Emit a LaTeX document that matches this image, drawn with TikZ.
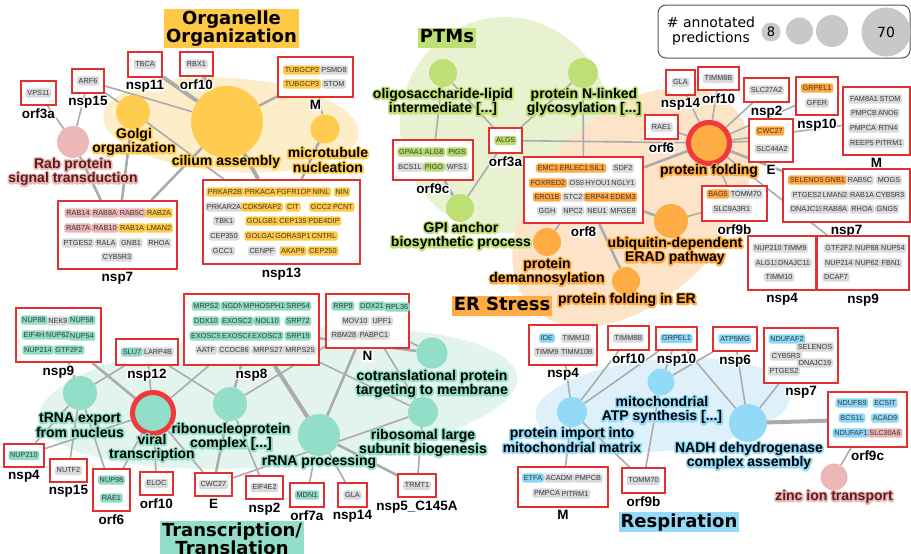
\documentclass[tikz,border=0pt]{standalone}
\usepackage{fontspec}
\setmainfont{Liberation Sans}
\newfontfamily\dejavu{DejaVu Sans}

\definecolor{boxred}{HTML}{E2312F}
\definecolor{ringred}{HTML}{EE3A3A}
\definecolor{edgegray}{HTML}{ABABAB}
\definecolor{chiptext}{HTML}{383838}
\definecolor{cgray}{HTML}{DADADA}
\definecolor{cyel}{HTML}{FFC845}
\definecolor{cpink}{HTML}{EBB3B3}
\definecolor{cgreen}{HTML}{B8DB6C}
\definecolor{corange}{HTML}{FFA73E}
\definecolor{cteal}{HTML}{8FDCC5}
\definecolor{cblue}{HTML}{8AD7F8}
\definecolor{myel}{HTML}{FFCC50}
\definecolor{mpink}{HTML}{EBB7B7}
\definecolor{mgreen}{HTML}{BEDF76}
\definecolor{morange}{HTML}{FFAC45}
\definecolor{mteal}{HTML}{93DEC8}
\definecolor{mblue}{HTML}{93DAF8}
\definecolor{rgyel}{HTML}{FDEDC8}
\definecolor{rggreen}{HTML}{E8F1D0}
\definecolor{rgorange}{HTML}{FDE4C8}
\definecolor{rgteal}{HTML}{E2F4EC}
\definecolor{rgblue}{HTML}{DEF1FA}
\definecolor{maroon}{HTML}{5A1C1C}
\definecolor{legline}{HTML}{555555}
\definecolor{leggray}{HTML}{C8C8C8}

\pgfdeclarelayer{regions}
\pgfdeclarelayer{edges}
\pgfsetlayers{regions,edges,main}

\tikzset{
  mcirc/.style={circle, fill=#1, draw=none, inner sep=0pt},
  pbox/.style={draw=boxred, line width=1.8pt, fill=white, inner sep=0pt},
  plab/.style={font=\fontsize{13.5}{14}\selectfont\bfseries, inner sep=0pt, text=black},
  chip/.style={fill=#1, rounded corners=2.5pt, font=\fontsize{7.3}{8}\selectfont,
    text=chiptext, inner xsep=1.7pt, inner ysep=1.7pt, text height=5.4pt, text depth=0.6pt},
  mlab/.style={font=\fontsize{14}{14.5}\selectfont\bfseries, align=center, inner sep=0pt, text=black},
  ttl/.style={fill=#1, font=\dejavu\bfseries\fontsize{18}{17}\selectfont, align=center,
    inner xsep=2pt, inner ysep=1.5pt},
  ttlone/.style={ttl=#1, text height=13.5pt, text depth=3.5pt},
  thinlink/.style={draw=edgegray, line width=1.6pt},
  midlink/.style={draw=edgegray, line width=2.6pt},
  thicklink/.style={draw=edgegray, line width=4pt}
}

% outlined (haloed) text: a stroked copy underneath, the plain text on top
\newcommand{\strokeon}[1]{\special{pdf:literal direct 1 j 1 J #1 w 1 Tr}}
\newcommand{\strokeoff}{\special{pdf:literal direct 0 Tr 0 j 0 J}}
\newcommand{\halo}[3]{\leavevmode\rlap{\textcolor{#2}{\strokeon{#1}#3\strokeoff}}#3}
\newcommand{\wh}[1]{\halo{2.8}{white}{#1}}
\newcommand{\hal}[2]{\halo{3.4}{#1}{#2}}

% a viral protein box with its name underneath
\newcommand{\protbox}[6]{%
  \node[pbox, minimum width=#4pt, minimum height=#5pt] (#1) at (#2,#3) {};
  \node[plab, anchor=north] (#1-name) at ([yshift=-2.5pt]#1.south) {\wh{#6}};}
% a gene chip inside a box
\newcommand{\gn}[4]{\node[chip=#2] (#1-#4) at (#3) {#4};}

\begin{document}
\begin{tikzpicture}[x=1pt,y=-1pt]
\useasboundingbox (0,0) rectangle (911,554);

% ---------------- shaded module areas ----------------
\begin{pgfonlayer}{regions}
  \fill[rgyel, rotate around={-4:(231,125)}] (231,125) ellipse [x radius=128, y radius=47];
  \fill[rggreen] (505,125) ellipse [x radius=105, y radius=108];
  \fill[rgorange, rotate around={45:(632,207)}] (632,207) ellipse [x radius=142, y radius=92];
  \fill[rgteal, rotate around={5:(278,398)}] (278,398) ellipse [x radius=240, y radius=68];
  \fill[rgblue, rotate around={5:(663,405)}] (663,405) ellipse [x radius=128, y radius=46];
\end{pgfonlayer}

% ---------------- term circles ----------------
\node[mcirc=myel, minimum size=72pt] (cilium) at (227,122) {};
\node[mcirc=myel, minimum size=34pt] (golgi) at (133,112) {};
\node[mcirc=myel, minimum size=29pt] (micro) at (325,129) {};
\node[mcirc=mpink, minimum size=32pt] (rab) at (73,142) {};

\node[mcirc=mgreen, minimum size=28pt] (oligo) at (443,73) {};
\node[mcirc=mgreen, minimum size=30pt] (nlink) at (583,73) {};
\node[mcirc=mgreen, minimum size=28pt] (gpi) at (460,208) {};

\node[mcirc=morange, minimum size=41pt, draw=ringred, line width=5pt] (pfold) at (709,143) {};
\node[mcirc=morange, minimum size=34pt] (erad) at (671,221) {};
\node[mcirc=morange, minimum size=28pt] (demann) at (547,242) {};
\node[mcirc=morange, minimum size=28pt] (foldER) at (626,281) {};

\node[mcirc=mteal, minimum size=41pt, draw=ringred, line width=5pt] (viral) at (153,413) {};
\node[mcirc=mteal, minimum size=34pt] (trna) at (80,393) {};
\node[mcirc=mteal, minimum size=34pt] (ribo) at (230,404) {};
\node[mcirc=mteal, minimum size=42pt] (rrna) at (319,435) {};
\node[mcirc=mteal, minimum size=31pt] (cotrans) at (432,353) {};
\node[mcirc=mteal, minimum size=30pt] (ribos) at (423,412) {};

\node[mcirc=mblue, minimum size=30pt] (import) at (572,412) {};
\node[mcirc=mblue, minimum size=27pt] (atp) at (661,382) {};
\node[mcirc=mblue, minimum size=38pt] (nadh) at (748,423) {};
\node[mcirc=mpink, minimum size=27pt] (zinc) at (834,477) {};

% ---------------- Organelle Organization boxes ----------------
\protbox{oOrf3a}{38.5}{93}{35}{24}{orf3a}
\gn{oOrf3a}{cgray}{38.5,93}{VPS11}
\protbox{oNsp15}{88}{81}{32}{24}{nsp15}
\gn{oNsp15}{cgray}{88,81}{ARF6}
\protbox{oNsp11}{145}{64.5}{34}{25}{nsp11}
\gn{oNsp11}{cgray}{145,64.5}{TBCA}
\protbox{oOrf10}{196.5}{64}{33}{24}{orf10}
\gn{oOrf10}{cgray}{196.5,64}{RBX1}
\protbox{oM}{315.5}{77}{75}{40}{M}
\gn{oM}{cyel}{302,70}{TUBGCP2}
\gn{oM}{cgray}{334,70}{PSMD8}
\gn{oM}{cyel}{302,84}{TUBGCP3}
\gn{oM}{cgray}{334,84}{STOM}
\protbox{oNsp7}{117.5}{235}{119}{68}{nsp7}
\gn{oNsp7}{cpink}{78,213}{RAB14}
\gn{oNsp7}{cpink}{105,213}{RAB8A}
\gn{oNsp7}{cpink}{132,213}{RAB5C}
\gn{oNsp7}{cyel}{159,213}{RAB2A}
\gn{oNsp7}{cpink}{78,228}{RAB7A}
\gn{oNsp7}{cpink}{105,228}{RAB10}
\gn{oNsp7}{cyel}{132,228}{RAB1A}
\gn{oNsp7}{cyel}{159,228}{LMAN2}
\gn{oNsp7}{cgray}{78,243}{PTGES2}
\gn{oNsp7}{cgray}{106,243}{RALA}
\gn{oNsp7}{cgray}{131,243}{GNB1}
\gn{oNsp7}{cgray}{159,243}{RHOA}
\gn{oNsp7}{cgray}{117,257}{CYB5R3}
\protbox{oNsp13}{281.5}{222}{157}{84}{nsp13}
\gn{oNsp13}{cyel}{225,192}{PRKAR2B}
\gn{oNsp13}{cyel}{260,192}{PRKACA}
\gn{oNsp13}{cyel}{294,192}{FGFR1OP}
\gn{oNsp13}{cyel}{321,192}{NINL}
\gn{oNsp13}{cyel}{342,192}{NIN}
\gn{oNsp13}{cgray}{224,207}{PRKAR2A}
\gn{oNsp13}{cyel}{262,207}{CDK5RAP2}
\gn{oNsp13}{cyel}{293,207}{CIT}
\gn{oNsp13}{cyel}{321,207}{GCC2}
\gn{oNsp13}{cyel}{343,207}{PCNT}
\gn{oNsp13}{cgray}{224,221}{TBK1}
\gn{oNsp13}{cyel}{262,221}{GOLGB1}
\gn{oNsp13}{cyel}{293,221}{CEP135}
\gn{oNsp13}{cyel}{324,221}{PDE4DIP}
\gn{oNsp13}{cgray}{224,236}{CEP350}
\gn{oNsp13}{cyel}{261,236}{GOLGA2}
\gn{oNsp13}{cyel}{293,236}{GORASP1}
\gn{oNsp13}{cyel}{324,236}{CNTRL}
\gn{oNsp13}{cgray}{223,251}{GCC1}
\gn{oNsp13}{cgray}{262,251}{CENPF}
\gn{oNsp13}{cyel}{293,251}{AKAP9}
\gn{oNsp13}{cyel}{323,251}{CEP250}

% ---------------- PTM boxes ----------------
\protbox{pOrf3a}{505.5}{140.5}{33}{25}{orf3a}
\gn{pOrf3a}{cgreen}{505.5,140.5}{ALG5}
\protbox{pOrf9c}{433}{160}{80}{40}{orf9c}
\gn{pOrf9c}{cgreen}{411,152}{GPAA1}
\gn{pOrf9c}{cgreen}{434,152}{ALG8}
\gn{pOrf9c}{cgreen}{457,152}{PIGS}
\gn{pOrf9c}{cgray}{410,167}{BCS1L}
\gn{pOrf9c}{cgreen}{434,167}{PIGO}
\gn{pOrf9c}{cgray}{457,167}{WFS1}

% ---------------- ER stress boxes ----------------
\protbox{eOrf8}{583.5}{190}{119}{66}{orf8}
\gn{eOrf8}{corange}{548,168}{EMC1}
\gn{eOrf8}{corange}{574,168}{ERLEC1}
\gn{eOrf8}{corange}{597,168}{SIL1}
\gn{eOrf8}{cgray}{623,168}{SDF2}
\gn{eOrf8}{corange}{548,183}{FOXRED2}
\gn{eOrf8}{cgray}{577,183}{OS9}
\gn{eOrf8}{cgray}{598,183}{HYOU1}
\gn{eOrf8}{cgray}{623,183}{NGLY1}
\gn{eOrf8}{corange}{547,197}{ERO1B}
\gn{eOrf8}{cgray}{573,197}{STC2}
\gn{eOrf8}{corange}{597,197}{ERP44}
\gn{eOrf8}{corange}{623,197}{EDEM3}
\gn{eOrf8}{cgray}{547,211}{GGH}
\gn{eOrf8}{cgray}{573,211}{NPC2}
\gn{eOrf8}{cgray}{597,211}{NEU1}
\gn{eOrf8}{cgray}{623,211}{MFGE8}
\protbox{eOrf6}{661.5}{127}{33}{24}{orf6}
\gn{eOrf6}{cgray}{661.5,127}{RAE1}
\protbox{eNsp14}{680.5}{82.5}{29}{25}{nsp14}
\gn{eNsp14}{cgray}{680.5,82.5}{GLA}
\protbox{eOrf10}{718.5}{78.5}{41}{23}{orf10}
\gn{eOrf10}{cgray}{718.5,78.5}{TIMM8B}
\protbox{eNsp2}{766.5}{90}{45}{24}{nsp2}
\gn{eNsp2}{cgray}{766.5,90}{SLC27A2}
\protbox{eNsp10}{817}{96}{42}{38}{nsp10}
\gn{eNsp10}{corange}{817,88}{GRPEL1}
\gn{eNsp10}{cgray}{817,103}{GFER}
\protbox{eE}{771}{140.5}{44}{43}{E}
\gn{eE}{corange}{770,131}{CWC27}
\gn{eE}{cgray}{772,149}{SLC44A2}
\protbox{eM}{876.5}{121}{67}{68}{M}
\gn{eM}{cgray}{864,99}{FAM8A1}
\gn{eM}{cgray}{890,99}{STOM}
\gn{eM}{cgray}{864,113}{PMPCB}
\gn{eM}{cgray}{888,113}{ANO6}
\gn{eM}{cgray}{863,128}{PMPCA}
\gn{eM}{cgray}{888,128}{RTN4}
\gn{eM}{cgray}{862,143}{REEP5}
\gn{eM}{cgray}{889,143}{PITRM1}
\protbox{eNsp7}{846.5}{195.5}{127}{53}{nsp7}
\gn{eNsp7}{corange}{807,180}{SELENOS}
\gn{eNsp7}{corange}{835,180}{GNB1}
\gn{eNsp7}{cgray}{860,180}{RAB5C}
\gn{eNsp7}{cgray}{889,180}{MOGS}
\gn{eNsp7}{cgray}{807,195}{PTGES2}
\gn{eNsp7}{cgray}{835,195}{LMAN2}
\gn{eNsp7}{cgray}{862,195}{RAB1A}
\gn{eNsp7}{cgray}{890,195}{CYB5R3}
\gn{eNsp7}{cgray}{807,209}{DNAJC19}
\gn{eNsp7}{cgray}{835,209}{RAB8A}
\gn{eNsp7}{cgray}{862,209}{RHOA}
\gn{eNsp7}{cgray}{887,209}{GNG5}
\protbox{eOrf9b}{734.5}{203.5}{65}{35}{orf9b}
\gn{eOrf9b}{corange}{718,194}{BAG5}
\gn{eOrf9b}{cgray}{746,194}{TOMM70}
\gn{eOrf9b}{cgray}{732,209}{SLC9A3R1}
\protbox{eNsp4}{782}{263}{68}{54}{nsp4}
\gn{eNsp4}{cgray}{768,248}{NUP210}
\gn{eNsp4}{cgray}{795,248}{TIMM9}
\gn{eNsp4}{cgray}{767,263}{ALG11}
\gn{eNsp4}{cgray}{794,263}{DNAJC11}
\gn{eNsp4}{cgray}{779,277}{TIMM10}
\protbox{eNsp9}{863}{263}{92}{54}{nsp9}
\gn{eNsp9}{cgray}{839,248}{GTF2F2}
\gn{eNsp9}{cgray}{867,248}{NUP88}
\gn{eNsp9}{cgray}{893,248}{NUP54}
\gn{eNsp9}{cgray}{839,263}{NUP214}
\gn{eNsp9}{cgray}{867,263}{NUP62}
\gn{eNsp9}{cgray}{891,263}{FBN1}
\gn{eNsp9}{cgray}{836,277}{DCAF7}

% ---------------- Transcription / Translation boxes ----------------
\protbox{tNsp9}{58.5}{335}{85}{54}{nsp9}
\gn{tNsp9}{cteal}{34,320}{NUP88}
\gn{tNsp9}{cgray}{58,321}{NEK9}
\gn{tNsp9}{cteal}{82,320}{NUP58}
\gn{tNsp9}{cteal}{34,335}{EIF4H}
\gn{tNsp9}{cteal}{58,335}{NUP62}
\gn{tNsp9}{cteal}{82,336}{NUP54}
\gn{tNsp9}{cteal}{38,350}{NUP214}
\gn{tNsp9}{cteal}{69,350}{GTF2F2}
\protbox{tNsp12}{147}{352}{62}{26}{nsp12}
\gn{tNsp12}{cteal}{132,352}{SLU7}
\gn{tNsp12}{cgray}{158,352}{LARP4B}
\protbox{tNsp8}{251.5}{329.5}{135}{71}{nsp8}
\gn{tNsp8}{cteal}{206,306}{MRPS2}
\gn{tNsp8}{cteal}{233,306}{NGDN}
\gn{tNsp8}{cteal}{266,306}{MPHOSPH10}
\gn{tNsp8}{cteal}{298,306}{SRP54}
\gn{tNsp8}{cteal}{206,321}{DDX10}
\gn{tNsp8}{cteal}{237,321}{EXOSC2}
\gn{tNsp8}{cteal}{267,321}{NOL10}
\gn{tNsp8}{cteal}{298,321}{SRP72}
\gn{tNsp8}{cteal}{206,336}{EXOSC5}
\gn{tNsp8}{cteal}{237,336}{EXOSC8}
\gn{tNsp8}{cteal}{267,336}{EXOSC3}
\gn{tNsp8}{cteal}{298,336}{SRP19}
\gn{tNsp8}{cgray}{206,350}{AATF}
\gn{tNsp8}{cgray}{234,350}{CCDC86}
\gn{tNsp8}{cgray}{268,350}{MRPS27}
\gn{tNsp8}{cgray}{300,350}{MRPS25}
\protbox{tN}{367.5}{321}{83}{54}{N}
\gn{tN}{cteal}{343,306}{RRP9}
\gn{tN}{cteal}{372,306}{DDX21}
\gn{tN}{cteal}{397,307}{RPL36}
\gn{tN}{cgray}{355,321}{MOV10}
\gn{tN}{cgray}{382,321}{UPF1}
\gn{tN}{cgray}{344,335}{RBM28}
\gn{tN}{cgray}{374,335}{PABPC1}
\protbox{tNsp4}{24}{455.5}{40}{23}{nsp4}
\gn{tNsp4}{cteal}{24,455.5}{NUP210}
\protbox{tNsp15}{68.5}{470.5}{37}{23}{nsp15}
\gn{tNsp15}{cgray}{68.5,470.5}{NUTF2}
\protbox{tOrf6}{111.5}{490}{37}{42}{orf6}
\gn{tOrf6}{cteal}{111.5,480}{NUP98}
\gn{tOrf6}{cteal}{111.5,498}{RAE1}
\protbox{tOrf10}{156.5}{483.5}{33}{23}{orf10}
\gn{tOrf10}{cgray}{156.5,483.5}{ELOC}
\protbox{tE}{213.5}{484.5}{37}{23}{E}
\gn{tE}{cgray}{213.5,484.5}{CWC27}
\protbox{tNsp2}{264.5}{487.5}{37}{23}{nsp2}
\gn{tNsp2}{cgray}{264.5,487.5}{EIF4E2}
\protbox{tOrf7a}{307}{495}{34}{24}{orf7a}
\gn{tOrf7a}{cteal}{307,495}{MDN1}
\protbox{tNsp14}{352.5}{495}{29}{24}{nsp14}
\gn{tNsp14}{cgray}{352.5,495}{GLA}
\protbox{tNsp5}{417}{485.5}{38}{23}{nsp5\_C145A}
\gn{tNsp5}{cgray}{417,485.5}{TRMT1}

% ---------------- Respiration boxes ----------------
\protbox{rNsp4}{563}{345}{68}{40}{nsp4}
\gn{rNsp4}{cblue}{547,338}{IDE}
\gn{rNsp4}{cgray}{576,338}{TIMM10}
\gn{rNsp4}{cgray}{547,352}{TIMM9}
\gn{rNsp4}{cgray}{577,352}{TIMM10B}
\protbox{rOrf10}{628.5}{338}{41}{24}{orf10}
\gn{rOrf10}{cgray}{628.5,338}{TIMM8B}
\protbox{rNsp10}{676.5}{338.5}{41}{23}{nsp10}
\gn{rNsp10}{cblue}{676.5,338.5}{GRPEL1}
\protbox{rNsp6}{735}{339}{44}{24}{nsp6}
\gn{rNsp6}{cblue}{735,339}{ATP5MG}
\protbox{rNsp7}{801}{355.5}{74}{55}{nsp7}
\gn{rNsp7}{cblue}{787,339}{NDUFAF2}
\gn{rNsp7}{cgray}{815,347}{SELENOS}
\gn{rNsp7}{cgray}{786,356}{CYB5R3}
\gn{rNsp7}{cgray}{815,363}{DNAJC19}
\gn{rNsp7}{cgray}{784,371}{PTGES2}
\protbox{rOrf9c}{867.5}{419.5}{79}{55}{orf9c}
\gn{rOrf9c}{cblue}{852,403}{NDUFB9}
\gn{rOrf9c}{cblue}{885,403}{ECSIT}
\gn{rOrf9c}{cblue}{852,418}{BCS1L}
\gn{rOrf9c}{cblue}{885,418}{ACAD9}
\gn{rOrf9c}{cblue}{851,433}{NDUFAF1}
\gn{rOrf9c}{cpink}{885,433}{SLC30A6}
\protbox{rM}{563}{487}{90}{40}{M}
\gn{rM}{cblue}{533,478}{ETFA}
\gn{rM}{cgray}{559,478}{ACADM}
\gn{rM}{cgray}{588,478}{PMPCB}
\gn{rM}{cgray}{547,493}{PMPCA}
\gn{rM}{cgray}{575,494}{PITRM1}
\protbox{rOrf9b}{643.5}{480.5}{43}{25}{orf9b}
\gn{rOrf9b}{cgray}{643.5,480.5}{TOMM70}

% ---------------- connectors ----------------
\begin{pgfonlayer}{edges}
  % organelle organization
  \draw[thinlink] (oOrf3a) -- (rab);
  \draw[thinlink] (oNsp15) -- (rab);
  \draw[thinlink] (oNsp15) -- (golgi);
  \draw[thinlink] (oNsp15) -- (cilium);
  \draw[thicklink] (oNsp11) -- (cilium);
  \draw[thicklink] (oOrf10) -- (cilium);
  \draw[midlink] (oM) -- (cilium);
  \draw[thinlink] (oM) -- (micro);
  \draw[midlink] (oNsp7) -- (rab);
  \draw[midlink] (oNsp7) -- (golgi);
  \draw[midlink] (oNsp7) -- (cilium);
  \draw[thicklink] (oNsp13) -- (cilium);
  \draw[thinlink] (oNsp13) -- (golgi);
  \draw[midlink] (oNsp13) -- (micro);
  % PTMs
  \draw[thinlink] (pOrf3a) -- (oligo);
  \draw[thinlink] (pOrf3a) -- (nlink);
  \draw[thinlink] (pOrf3a) -- (gpi);
  \draw[thinlink] (pOrf3a) -- (pfold);
  \draw[thinlink] (pOrf9c) -- (oligo);
  \draw[midlink] (pOrf9c) -- (gpi);
  \draw[thinlink] (eOrf8) -- (nlink);
  % ER stress
  \draw[midlink] (eOrf8) -- (pfold);
  \draw[midlink] (eOrf8) -- (erad);
  \draw[thinlink] (eOrf8) -- (demann);
  \draw[midlink] (eOrf8) -- (foldER);
  \draw[thinlink] (eOrf6) -- (pfold);
  \draw[thinlink] (eNsp14) -- (pfold);
  \draw[thinlink] (eOrf10) -- (pfold);
  \draw[thinlink] (eNsp2) -- (pfold);
  \draw[thinlink] (eNsp10) -- (pfold);
  \draw[thinlink] (eE) -- (pfold);
  \draw[thinlink] (eM) -- (pfold);
  \draw[midlink] (eNsp7) -- (pfold);
  \draw[thinlink] (eOrf9b) -- (pfold);
  \draw[thinlink] (eOrf9b) -- (erad);
  \draw[thinlink] (eNsp9) -- (pfold);
  % transcription / translation
  \draw[midlink] (tNsp9) -- (trna);
  \draw[midlink] (tNsp9) -- (viral);
  \draw[thinlink] (tNsp12) -- (viral);
  \draw[thinlink] (tNsp12) -- (trna);
  \draw[thinlink] (tNsp12) -- (ribo);
  \draw[thicklink] (tNsp8) -- (rrna);
  \draw[midlink] (tNsp8) -- (ribo);
  \draw[midlink] (tNsp8) -- (cotrans);
  \draw[thinlink] (tNsp8) -- (viral);
  \draw[thinlink] (tNsp8) -- (ribos);
  \draw[midlink] (tN) -- (rrna);
  \draw[thinlink] (tN) -- (ribos);
  \draw[thinlink] (tN) -- (cotrans);
  \draw[thinlink] (tN) -- (ribo);
  \draw[thinlink] (tNsp4) -- (trna);
  \draw[thinlink] (tNsp4) -- (viral);
  \draw[thinlink] (tNsp15) -- (trna);
  \draw[thinlink] (tOrf6) -- (trna);
  \draw[thinlink] (tOrf6) -- (viral);
  \draw[thinlink] (tOrf10) -- (viral);
  \draw[midlink] (tE) -- (ribo);
  \draw[thinlink] (tE) -- (viral);
  \draw[thinlink] (tE) -- (ribos);
  \draw[thinlink] (tNsp2) -- (ribo);
  \draw[thinlink] (tOrf7a) -- (rrna);
  \draw[thinlink] (tNsp14) -- (rrna);
  \draw[midlink] (tNsp5) -- (rrna);
  \draw[thinlink] (tNsp5) -- (ribos);
  % respiration
  \draw[thinlink] (rNsp4) -- (import);
  \draw[thinlink] (rOrf10) -- (import);
  \draw[thinlink] (rNsp10) -- (import);
  \draw[thinlink] (rNsp10) -- (atp);
  \draw[thinlink] (rNsp10) -- (nadh);
  \draw[thinlink] (rNsp6) -- (atp);
  \draw[thinlink] (rNsp6) -- (nadh);
  \draw[thinlink] (rNsp7) -- (nadh);
  \draw[thicklink] (rOrf9c) -- (nadh);
  \draw[thinlink] (rOrf9c) -- (zinc);
  \draw[thinlink] (rM) -- (import);
  \draw[thinlink] (rOrf9b) -- (import);
  \draw[thinlink] (rOrf9b) -- (atp);
\end{pgfonlayer}

% ---------------- term names ----------------
\node[mlab] (golgi-name) at (134,142) {\hal{myel}{Golgi}\\\hal{myel}{organization}};
\node[mlab] (cilium-name) at (226,162) {\hal{myel}{cilium assembly}};
\node[mlab] (micro-name) at (328,160) {\hal{myel}{microtubule}\\\hal{myel}{nucleation}};
\node[mlab, text=maroon] (rab-name) at (73,172) {\hal{mpink}{Rab protein}\\\hal{mpink}{signal transduction}};
\node[mlab] (oligo-name) at (443,102) {\hal{mgreen}{oligosaccharide-lipid}\\\hal{mgreen}{intermediate [...]}};
\node[mlab] (nlink-name) at (584,102) {\hal{mgreen}{protein N-linked}\\\hal{mgreen}{glycosylation [...]}};
\node[mlab] (gpi-name) at (461,236) {\hal{mgreen}{GPI anchor}\\\hal{mgreen}{biosynthetic process}};
\node[mlab] (pfold-name) at (709,171) {\hal{morange}{protein folding}};
\node[mlab] (erad-name) at (675,251) {\hal{morange}{ubiquitin-dependent}\\\hal{morange}{ERAD pathway}};
\node[mlab] (demann-name) at (547,272) {\hal{morange}{protein}\\\hal{morange}{demannosylation}};
\node[mlab] (foldER-name) at (627,300) {\hal{morange}{protein folding in ER}};
\node[mlab] (viral-name) at (152,448) {\hal{mteal}{viral}\\\hal{mteal}{transcription}};
\node[mlab] (trna-name) at (80,425) {\hal{mteal}{tRNA export}\\\hal{mteal}{from nucleus}};
\node[mlab] (ribo-name) at (231,437) {\hal{mteal}{ribonucleoprotein}\\\hal{mteal}{complex [...]}};
\node[mlab] (rrna-name) at (319,462) {\hal{mteal}{rRNA processing}};
\node[mlab] (cotrans-name) at (432,384) {\hal{mteal}{cotranslational protein}\\\hal{mteal}{targeting to membrane}};
\node[mlab] (ribos-name) at (423,443) {\hal{mteal}{ribosomal large}\\\hal{mteal}{subunit biogenesis}};
\node[mlab] (import-name) at (572,440) {\hal{mblue}{protein import into}\\\hal{mblue}{mitochondrial matrix}};
\node[mlab] (atp-name) at (662,410) {\hal{mblue}{mitochondrial}\\\hal{mblue}{ATP synthesis [...]}};
\node[mlab] (nadh-name) at (749,456) {\hal{mblue}{NADH dehydrogenase}\\\hal{mblue}{complex assembly}};
\node[mlab, text=maroon] (zinc-name) at (834,497) {\hal{mpink}{zinc ion transport}};

% ---------------- category titles ----------------
\node[ttl=cyel] (t-org) at (231.5,28.5) {Organelle\\Organization};
\node[ttlone=mgreen] (t-ptm) at (447,37.5) {PTMs};
\node[ttlone=morange] (t-er) at (502,305.5) {ER Stress};
\node[ttl=mteal] (t-tt) at (232,539) {Transcription/\\Translation};
\node[ttlone=mblue] (t-resp) at (679,522) {Respiration};

% ---------------- legend ----------------
\node[draw=legline, line width=1pt, rounded corners=8pt, minimum width=252pt,
      minimum height=53pt, inner sep=0pt, fill=white] (legend) at (784,31.5) {};
\node[font=\dejavu\fontsize{14}{14.5}\selectfont, align=center, inner sep=0pt]
      (legend-text) at (711,31) {\# annotated\\predictions};
\node[mcirc=leggray, minimum size=19pt, font=\dejavu\fontsize{13}{13}\selectfont] (leg8) at (771,32) {8};
\node[mcirc=leggray, minimum size=27pt] (leg2) at (799.5,31) {};
\node[mcirc=leggray, minimum size=32pt] (leg3) at (832,31) {};
\node[mcirc=leggray, minimum size=49pt, font=\dejavu\fontsize{14}{14}\selectfont] (leg70) at (886,32) {70};

\end{tikzpicture}
\end{document}
